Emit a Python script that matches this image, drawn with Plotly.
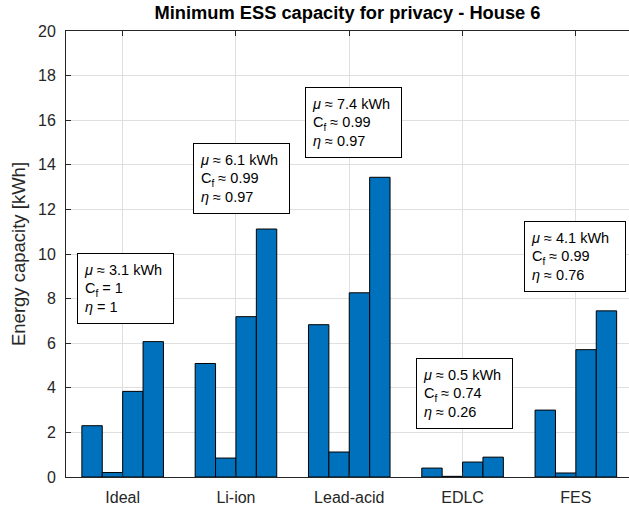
import plotly.graph_objects as go

# Storage technologies on the x axis
categories = ["Ideal", "Li-ion", "Lead-acid", "EDLC", "FES"]

# Minimum capacity [kWh] for the four cases of each technology
case_1 = [2.30, 5.09, 6.83, 0.40, 3.00]
case_2 = [0.20, 0.85, 1.12, 0.03, 0.18]
case_3 = [3.84, 7.19, 8.26, 0.67, 5.71]
case_4 = [6.07, 11.12, 13.44, 0.89, 7.45]

# Capacity factor and efficiency per technology (relation sign, value)
cap_factor = [("=", "1"), ("≈", "0.99"), ("≈", "0.99"), ("≈", "0.74"), ("≈", "0.99")]
efficiency = [("=", "1"), ("≈", "0.97"), ("≈", "0.97"), ("≈", "0.26"), ("≈", "0.76")]

y_ticks = list(range(0, 21, 2))

# Top-left corner of each info box, in axis units
box_pos = [(-0.40, 10.03), (0.62, 15.0), (1.61, 17.5), (2.59, 5.34), (3.54, 11.46)]

FONT = "Liberation Sans, Arial, Helvetica, sans-serif"
BLUE = "#0072BD"
AXIS = "#262626"
GRID = "#dfdfdf"

fig = go.Figure()
series = [case_1, case_2, case_3, case_4]
for k, vals in enumerate(series):
    fig.add_trace(go.Bar(
        x=categories, y=vals, name=f"case {k + 1}",
        marker=dict(color=BLUE, line=dict(color="#000000", width=1)),
        showlegend=False,
    ))

# Info box per technology: mean of the four capacities, C_f and efficiency
for i, cat in enumerate(categories):
    mean = sum(s[i] for s in series) / len(series)
    txt = (f"<i>μ</i> ≈ {mean:.1f} kWh<br>"
           f"C<sub>f</sub> {cap_factor[i][0]} {cap_factor[i][1]}<br>"
           f"<i>η</i> {efficiency[i][0]} {efficiency[i][1]}")
    bx, by = box_pos[i]
    w = 83 if i != 4 else 88
    fig.add_annotation(
        x=bx, y=by, xref="x", yref="y", xanchor="left", yanchor="top",
        text=txt, showarrow=False, align="left", valign="middle",
        width=w, height=57, borderpad=6, borderwidth=1,
        bordercolor="#000000", bgcolor="#ffffff",
        font=dict(family=FONT, size=14.5, color="#000000"),
    )

fig.update_layout(
    width=629, height=506,
    margin=dict(l=66, r=0, t=31, b=27),
    paper_bgcolor="#ffffff", plot_bgcolor="#ffffff",
    barmode="group", bargap=0.28, bargroupgap=0,
    font=dict(family=FONT, color=AXIS),
    title=dict(
        text="<b>Minimum ESS capacity for privacy - House 6</b>",
        x=0.5, xref="paper", xanchor="center",
        y=1 - 13 / 506, yref="container", yanchor="middle",
        font=dict(family=FONT, size=18.3, color="#000000"),
    ),
    xaxis=dict(
        range=[-0.5, 4.469], showgrid=True, gridcolor=GRID, gridwidth=1,
        showline=True, linecolor=AXIS, linewidth=1, mirror="ticks",
        ticks="inside", ticklen=5, tickcolor=AXIS,
        tickfont=dict(family=FONT, size=16, color=AXIS),
        ticklabelstandoff=6, zeroline=False,
    ),
    yaxis=dict(
        range=[0, 20], tickvals=y_ticks, showgrid=True, gridcolor=GRID,
        gridwidth=1, showline=True, linecolor=AXIS, linewidth=1,
        ticks="inside", ticklen=5, tickcolor=AXIS,
        tickfont=dict(family=FONT, size=16, color=AXIS),
        ticklabelstandoff=6, zeroline=False,
        title=dict(text="Energy capacity [kWh]", standoff=7,
                   font=dict(family=FONT, size=18.5, color=AXIS)),
    ),
)

fig.write_html("out.html")
